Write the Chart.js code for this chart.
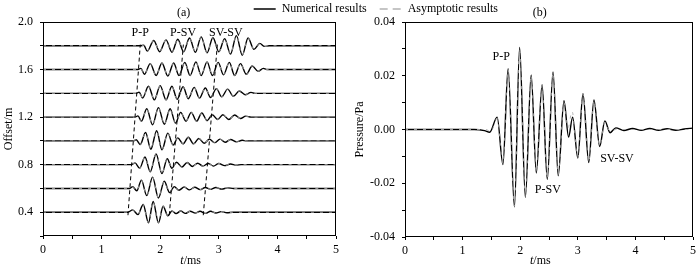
<!DOCTYPE html>
<html>
<head>
<meta charset="utf-8">
<script src="https://cdn.jsdelivr.net/npm/chart.js@4"></script>
<style>
  html, body { margin: 0; padding: 0; background: #fff; }
  #wrap { position: relative; width: 700px; height: 271px; }
  #boxA { position: absolute; left: 0; top: 0; z-index: 2; }
  #boxB { position: absolute; left: 350px; top: 0; }
</style>
</head>
<body>
<div id="wrap">
  <div id="boxB"><canvas id="chartB" width="350" height="271"></canvas></div>
  <div id="boxA"><canvas id="chartA" width="520" height="271"></canvas></div>
</div>
<script>
const serif = "'Liberation Serif', 'Times New Roman', serif";

// (a) trace offsets (m) and wavelets as [t (ms), amplitude added to the offset]
const offsets = [0.4, 0.6, 0.8, 1.0, 1.2, 1.4, 1.6, 1.8];
const trace04 = [[0,0],[1.45,0],[1.53,0.02],[1.62,-0.02],[1.71,0.065],[1.80,-0.09],[1.88,0.09],[1.97,-0.09],[2.05,0.05],[2.13,-0.03],[2.20,0.01],[2.27,-0.012],[2.35,0.01],[2.43,-0.01],[2.51,0.008],[2.60,-0.008],[2.68,0.008],[2.77,-0.01],[2.86,0.008],[2.95,-0.006],[3.04,0.005],[3.14,-0.004],[3.24,0],[5,0]];
const trace06 = [[0,0],[1.48,0],[1.53,0.015],[1.60,-0.02],[1.68,0.07],[1.77,-0.06],[1.87,0.095],[1.97,-0.08],[2.07,0.06],[2.16,-0.035],[2.24,0.015],[2.32,-0.015],[2.41,0.012],[2.50,-0.012],[2.59,0.01],[2.68,-0.01],[2.77,0.008],[2.86,-0.008],[2.95,0.008],[3.05,-0.006],[3.15,0.005],[3.25,0],[5,0]];
const trace08 = [[0,0],[1.51,0],[1.57,0.015],[1.65,-0.03],[1.74,0.065],[1.83,-0.06],[1.93,0.09],[2.03,-0.075],[2.12,0.05],[2.20,-0.03],[2.28,0.02],[2.37,-0.02],[2.46,0.018],[2.55,-0.015],[2.64,0.012],[2.73,-0.012],[2.82,0.01],[2.91,-0.012],[3.00,0.01],[3.10,-0.008],[3.20,0.006],[3.30,-0.004],[3.38,0],[5,0]];
const trace10 = [[0,0],[1.54,0],[1.59,0.01],[1.66,-0.03],[1.75,0.07],[1.84,-0.07],[1.94,0.085],[2.03,-0.075],[2.13,0.065],[2.22,-0.035],[2.30,0.025],[2.39,-0.025],[2.48,0.03],[2.57,-0.025],[2.66,0.02],[2.75,-0.02],[2.84,0.015],[2.93,-0.015],[3.02,0.015],[3.11,-0.012],[3.20,0.012],[3.30,-0.008],[3.40,0.005],[3.47,0],[5,0]];
const trace12 = [[0,0],[1.57,0],[1.62,0.01],[1.68,-0.035],[1.77,0.07],[1.87,-0.065],[1.97,0.08],[2.07,-0.06],[2.17,0.07],[2.26,-0.05],[2.35,0.04],[2.44,-0.035],[2.53,0.04],[2.62,-0.035],[2.71,0.035],[2.80,-0.03],[2.89,0.02],[2.98,-0.02],[3.07,0.02],[3.17,-0.02],[3.27,0.018],[3.37,-0.012],[3.46,0.008],[3.55,0],[5,0]];
const trace14 = [[0,0],[1.59,0],[1.64,0.01],[1.70,-0.04],[1.80,0.06],[1.90,-0.055],[2.00,0.065],[2.10,-0.055],[2.20,0.06],[2.29,-0.05],[2.39,0.055],[2.48,-0.045],[2.58,0.05],[2.67,-0.04],[2.77,0.045],[2.86,-0.035],[2.96,0.04],[3.05,-0.03],[3.15,0.035],[3.25,-0.025],[3.35,0.02],[3.45,-0.012],[3.55,0.008],[3.62,0],[5,0]];
const trace16 = [[0,0],[1.62,0],[1.67,0.01],[1.73,-0.04],[1.83,0.05],[1.93,-0.05],[2.03,0.055],[2.13,-0.055],[2.23,0.055],[2.32,-0.05],[2.42,0.06],[2.51,-0.05],[2.61,0.065],[2.70,-0.05],[2.80,0.065],[2.89,-0.05],[2.99,0.06],[3.08,-0.045],[3.18,0.06],[3.27,-0.05],[3.37,0.05],[3.47,-0.04],[3.57,0.03],[3.67,-0.015],[3.76,0.01],[3.82,0],[5,0]];
const trace18 = [[0,0],[1.66,0],[1.72,0.005],[1.78,-0.045],[1.89,0.045],[1.99,-0.05],[2.10,0.05],[2.20,-0.055],[2.30,0.055],[2.40,-0.05],[2.50,0.065],[2.60,-0.055],[2.70,0.075],[2.80,-0.06],[2.90,0.07],[3.00,-0.05],[3.10,0.06],[3.20,-0.07],[3.30,0.085],[3.40,-0.08],[3.50,0.065],[3.60,-0.03],[3.70,0.02],[3.78,-0.005],[3.86,0],[5,0]];
const traces = [trace04, trace06, trace08, trace10, trace12, trace14, trace16, trace18];

// arrival lines [t, offset]
const ppLine = [[1.45,0.375],[1.66,1.81]];
const psvLine = [[2.155,0.375],[2.395,1.81]];
const svsvLine = [[2.735,0.375],[2.975,1.81]];

// (b) pressure [t (ms), p (Pa)]
const pressureNum = [[0,0],[1.20,0],[1.38,-0.0004],[1.47,-0.0010],[1.60,0.0046],[1.70,-0.0130],[1.79,0.0226],[1.90,-0.0288],[1.99,0.0305],[2.09,-0.0252],[2.19,0.0203],[2.28,-0.0162],[2.38,0.0167],[2.47,-0.0186],[2.57,0.0214],[2.66,-0.0172],[2.76,0.0107],[2.84,-0.0028],[2.91,0.0046],[3.00,-0.0106],[3.09,0.0133],[3.19,-0.0123],[3.28,0.0110],[3.38,-0.0063],[3.47,0.0032],[3.56,-0.0012],[3.66,0.0006],[3.80,-0.0004],[3.95,0.0004],[4.10,-0.0003],[4.25,0.0004],[4.40,-0.0003],[4.55,0.0003],[4.70,-0.0003],[4.85,0.0002],[5.00,0.0005]];
const pressureAsym = [[0,0],[1.40,0],[1.49,-0.0008],[1.60,0.0042],[1.70,-0.0128],[1.79,0.0224],[1.90,-0.0286],[1.99,0.0302],[2.09,-0.0250],[2.19,0.0201],[2.28,-0.0160],[2.38,0.0165],[2.47,-0.0184],[2.57,0.0212],[2.66,-0.0168],[2.76,0.0100],[2.83,0.0005],[2.90,0.0068],[3.00,-0.0104],[3.09,0.0131],[3.19,-0.0121],[3.28,0.0108],[3.38,-0.0060],[3.47,0.0028],[3.56,-0.0008],[3.66,0],[5,0]];

// labelled ticks
const timeLabels = [0, 1, 2, 3, 4, 5];
const offsetLabels = [0.4, 0.8, 1.2, 1.6, 2.0];
const pressureLabels = [-0.04, -0.02, 0, 0.02, 0.04];

const has = (list, v) => list.some(l => Math.abs(l - v) < 1e-6);
const font = { family: serif, size: 12 };
const numStyle = { borderColor: '#000', borderWidth: 1.4, order: 2 };
const asymStyle = { borderColor: '#a8a8a8', borderWidth: 0.9, borderDash: [3, 6], order: 1 };

// draws frame, panel name, axis titles and wave labels
const panelDecor = {
  id: 'panelDecor',
  afterDraw(chart, args, o) {
    const { ctx, chartArea: a, scales: { x, y } } = chart;
    ctx.save();
    ctx.strokeStyle = '#000';
    ctx.lineWidth = 1;
    ctx.strokeRect(a.left + 0.5, a.top + 0.5, a.right - a.left - 1, a.bottom - a.top - 1);
    ctx.fillStyle = '#000';
    ctx.textBaseline = 'middle';
    ctx.textAlign = 'center';
    ctx.font = `12px ${serif}`;
    ctx.fillText(o.name, x.getPixelForValue(o.nameAt), 13);
    o.notes.forEach(n => ctx.fillText(n.text, x.getPixelForValue(n.t), y.getPixelForValue(n.v)));

    // "t/ms" with italic t
    ctx.font = `italic 12px ${serif}`;
    const w1 = ctx.measureText('t').width;
    ctx.font = `12px ${serif}`;
    const w2 = ctx.measureText('/ms').width;
    const sx = x.getPixelForValue(o.xTitleAt) - (w1 + w2) / 2;
    ctx.textAlign = 'left';
    ctx.font = `italic 12px ${serif}`;
    ctx.fillText('t', sx, 261);
    ctx.font = `12px ${serif}`;
    ctx.fillText('/ms', sx + w1, 261);

    ctx.translate(o.yTitleX, (a.top + a.bottom) / 2);
    ctx.rotate(-Math.PI / 2);
    ctx.textAlign = 'center';
    ctx.fillText(o.yTitle, 0, 0);
    ctx.restore();
  }
};

function timeAxis(h) {
  return {
    type: 'linear', min: 0, max: 5,
    ticks: { stepSize: 0.5, autoSkip: false, maxRotation: 0, padding: 4, color: '#000', font,
      callback: v => has(timeLabels, v) ? String(Math.round(v)) : '' },
    grid: { drawOnChartArea: false, color: '#000', tickLength: 3 },
    border: { display: false },
    afterFit: s => { s.height = h; }
  };
}

// ---- panel (a), its legend also carries the shared key
const dsA = [];
traces.forEach((tr, i) => {
  const pts = tr.map(([t, a]) => ({ x: t, y: offsets[i] + a }));
  dsA.push({ label: i === 0 ? 'Numerical results' : '', data: pts, ...numStyle });
  dsA.push({ label: i === 0 ? 'Asymptotic results' : '', data: pts, ...asymStyle });
});
[ppLine, psvLine, svsvLine].forEach(l => {
  dsA.push({ label: '', data: l.map(([t, o]) => ({ x: t, y: o })), borderColor: '#000', borderWidth: 1, borderDash: [4, 3], order: 0 });
});

new Chart(document.getElementById('chartA'), {
  type: 'line',
  data: { datasets: dsA },
  options: {
    responsive: false, animation: false, events: [],
    elements: { point: { radius: 0 }, line: { cubicInterpolationMode: 'monotone', fill: false } },
    layout: { padding: { left: 0, right: 9, top: -10, bottom: 0 } },
    scales: {
      x: timeAxis(35),
      y: {
        type: 'linear', min: 0.2, max: 2.0,
        ticks: { stepSize: 0.2, autoSkip: false, padding: 7, color: '#000', font,
          callback: v => has(offsetLabels, v) ? v.toFixed(1) : '' },
        grid: { drawOnChartArea: false, color: '#000', tickLength: 3 },
        border: { display: false },
        afterFit: s => { s.width = 43; }
      },
      spare: {
        type: 'linear', position: 'right', display: true,
        ticks: { display: false }, grid: { display: false }, border: { display: false },
        afterFit: s => { s.width = 175; }
      }
    },
    plugins: {
      tooltip: { enabled: false },
      legend: {
        position: 'top', align: 'end', maxHeight: 32,
        labels: {
          font, color: '#000', padding: 13, usePointStyle: true, pointStyle: 'line', pointStyleWidth: 22,
          sort: (a, b) => a.datasetIndex - b.datasetIndex,
          generateLabels: chart => Chart.defaults.plugins.legend.labels.generateLabels(chart)
            .filter(it => it.text !== '')
            .map(it => Object.assign(it, it.text === 'Numerical results'
              ? { lineWidth: 1.5, strokeStyle: '#000', lineDash: [] }
              : { lineWidth: 1.2, strokeStyle: '#8c8c8c', lineDash: [8, 5] }))
        }
      },
      panelDecor: {
        name: '(a)', nameAt: 2.40, xTitleAt: 2.52, yTitle: 'Offset/m', yTitleX: 9,
        notes: [
          { text: 'P-P', t: 1.66, v: 1.905 },
          { text: 'P-SV', t: 2.39, v: 1.905 },
          { text: 'SV-SV', t: 3.12, v: 1.905 }
        ]
      }
    }
  },
  plugins: [panelDecor]
});

// ---- panel (b)
new Chart(document.getElementById('chartB'), {
  type: 'line',
  data: {
    datasets: [
      { label: 'Numerical results', data: pressureNum.map(([t, p]) => ({ x: t, y: p })), ...numStyle },
      { label: 'Asymptotic results', data: pressureAsym.map(([t, p]) => ({ x: t, y: p })), ...asymStyle }
    ]
  },
  options: {
    responsive: false, animation: false, events: [],
    elements: { point: { radius: 0 }, line: { cubicInterpolationMode: 'monotone', fill: false } },
    layout: { padding: { left: 0, right: 3, top: 22, bottom: 0 } },
    scales: {
      x: timeAxis(34),
      y: {
        type: 'linear', min: -0.04, max: 0.04,
        ticks: { stepSize: 0.01, autoSkip: false, padding: 7, color: '#000', font,
          callback: v => has(pressureLabels, v) ? v.toFixed(2) : '' },
        grid: { drawOnChartArea: false, color: '#000', tickLength: 3 },
        border: { display: false },
        afterFit: s => { s.width = 55; }
      }
    },
    plugins: {
      tooltip: { enabled: false },
      legend: { display: false },
      panelDecor: {
        name: '(b)', nameAt: 2.34, xTitleAt: 2.35, yTitle: 'Pressure/Pa', yTitleX: 10,
        notes: [
          { text: 'P-P', t: 1.67, v: 0.0271 },
          { text: 'P-SV', t: 2.48, v: -0.0224 },
          { text: 'SV-SV', t: 3.68, v: -0.0108 }
        ]
      }
    }
  },
  plugins: [panelDecor]
});
</script>
</body>
</html>
